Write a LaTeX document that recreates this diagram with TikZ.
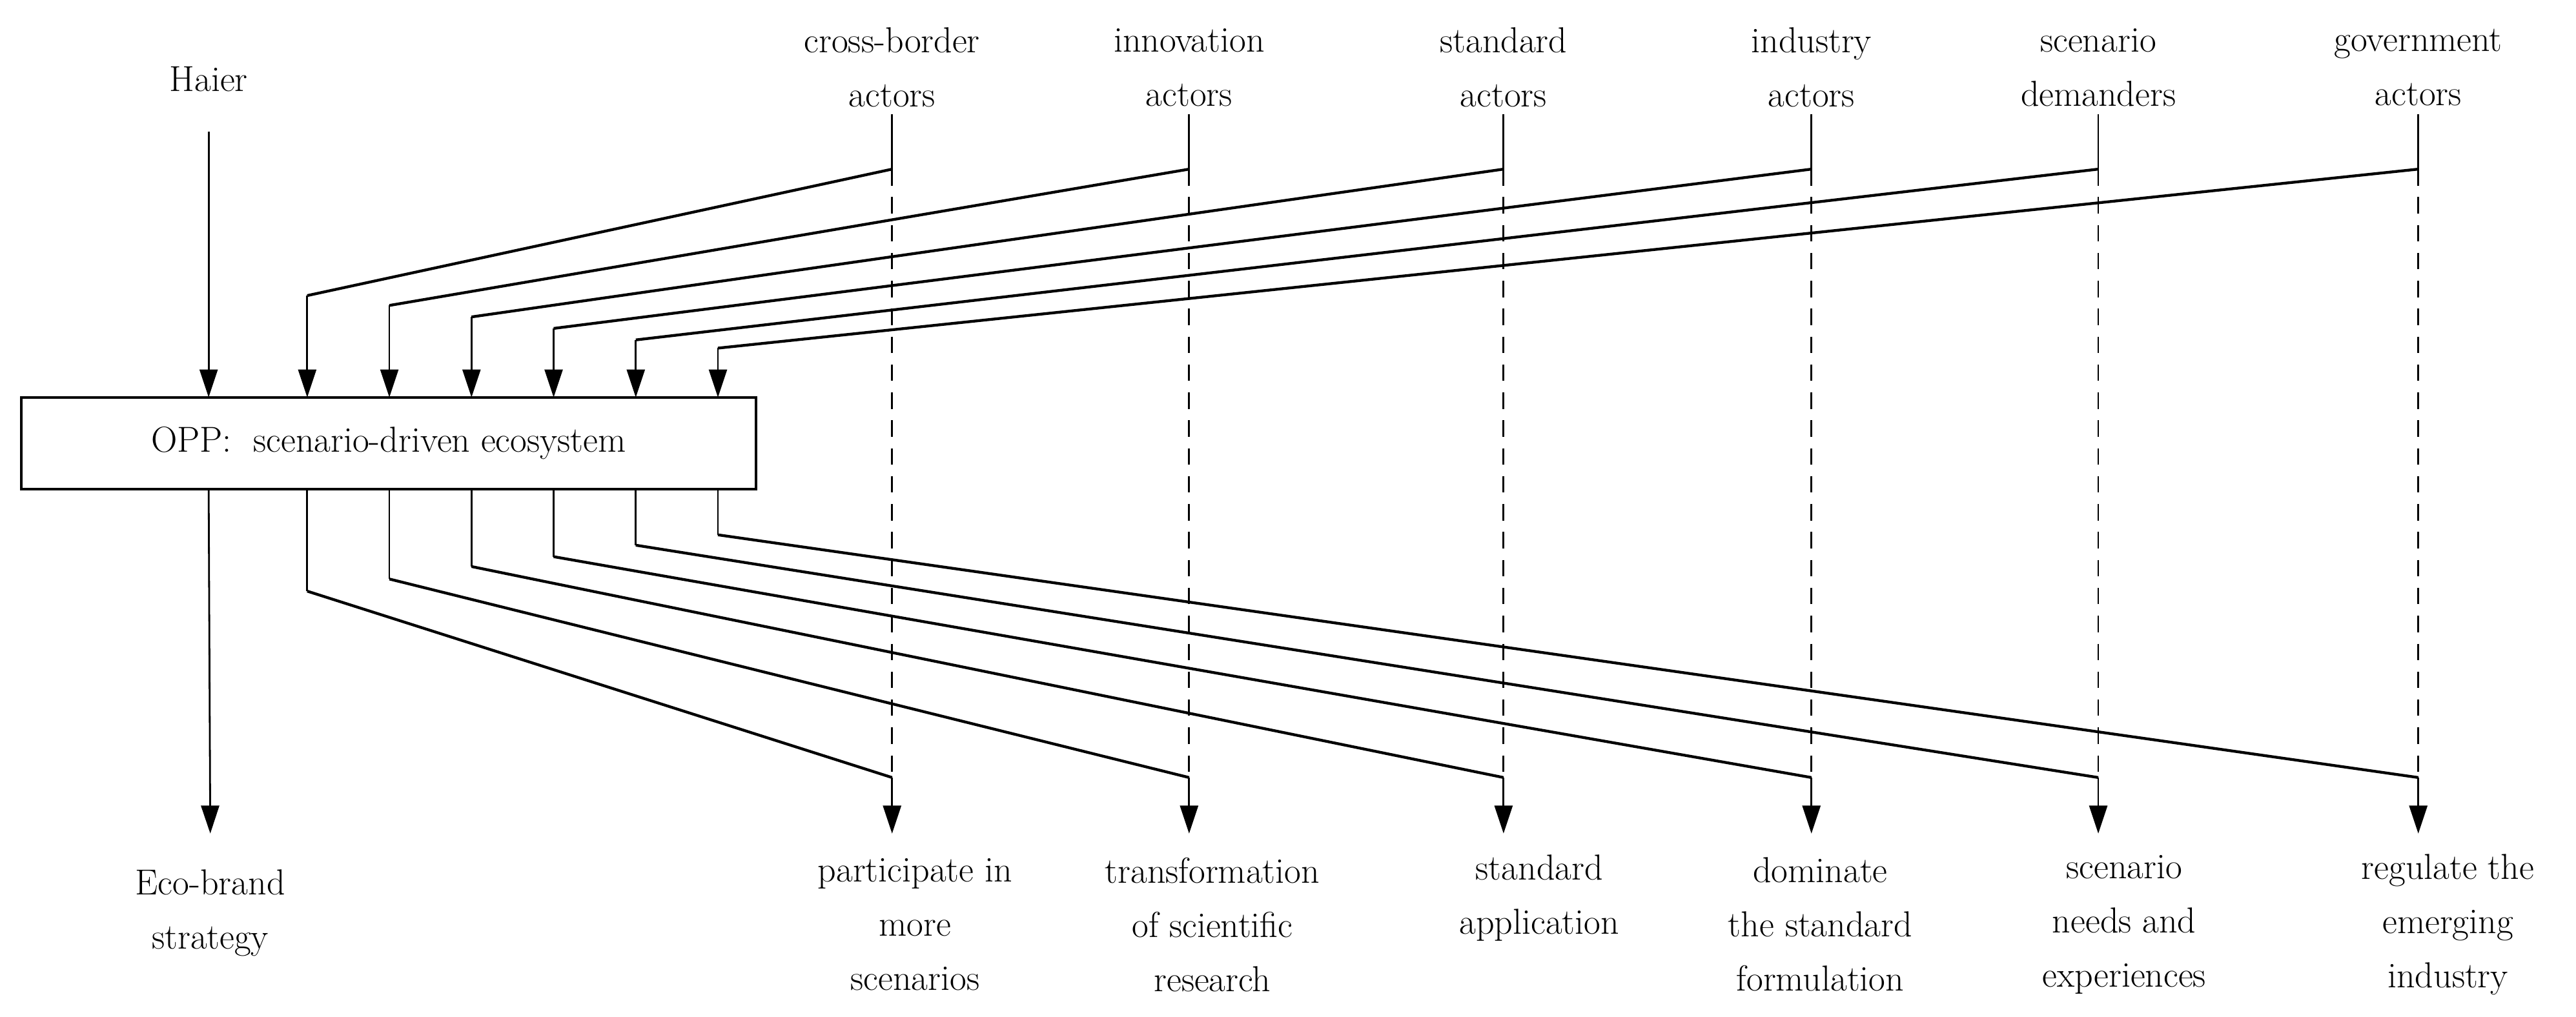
\documentclass[tikz,border=0pt]{standalone}
\usepackage{mathpazo}
\usetikzlibrary{arrows.meta}
\begin{document}
\begin{tikzpicture}[x=1pt,y=-1pt,
  lbl/.style={align=center,font=\fontsize{22}{33}\selectfont,inner sep=0pt},
  tip/.style={-{Triangle[length=17pt,width=11pt]}},
  thn/.style={line width=1.1pt},
  diag/.style={line width=1.7pt},
  dsh/.style={line width=1.1pt,dash pattern=on 10pt off 7pt}]
\useasboundingbox (0,0) rectangle (1568,619);
\node[draw,line width=1.6pt,minimum width=447pt,minimum height=56pt,inner sep=0pt,font=\fontsize{22}{26}\bfseries\selectfont] (box) at (236.5,270) {OPP:\ \ scenario-driven ecosystem};
\node[lbl] (haier) at (127,48) {Haier};
\coordinate (hs) at (127,80);
\draw[thn,tip] (hs) -- (127,242);
\node[lbl] (eco) at (128,556) {Eco-brand\\strategy};
\draw[thn,tip] (127,298) -- (eco.north |- 0,507.6);
\foreach \i/\col/\bx/\ey/\oy/\txt in {
 1/543/187/180/360/{cross-border\\actors},
 2/723.8/237/186/352.6/{innovation\\actors},
 3/915.2/287/193/345/{standard\\actors},
 4/1102.6/337/200/339/{industry\\actors},
 5/1277.2/387/207/332/{scenario\\demanders},
 6/1472/437/212/325.7/{government\\actors}}{
  \node[lbl] (a\i) at (\col,41) {\txt};
  \coordinate (t\i) at (\col,69.4);
  \coordinate (k\i) at (\col,103);
  \coordinate (e\i) at (\bx,\ey);
  \coordinate (ei\i) at (\bx,242);
  \coordinate (f\i) at (\bx,298);
  \coordinate (g\i) at (\bx,\oy);
  \coordinate (h\i) at (\col,473.5);
  \coordinate (p\i) at (\col,507.6);
  \draw[thn] (t\i) -- (k\i);
  \draw[diag] (k\i) -- (e\i);
  \draw[thn,tip] (e\i) -- (ei\i);
  \draw[dsh] (k\i) -- (h\i);
  \draw[thn] (f\i) -- (g\i);
  \draw[diag] (g\i) -- (h\i);
  \draw[thn,tip] (h\i) -- (p\i);
}
\node[lbl] (o1) at (557,563) {participate in\\more\\scenarios};
\node[lbl] (o2) at (738,563) {transformation\\of scientific\\research};
\node[lbl] (o3) at (937,547) {standard\\application};
\node[lbl] (o4) at (1108,563) {dominate\\the standard\\formulation};
\node[lbl] (o5) at (1293,563) {scenario\\needs and\\experiences};
\node[lbl] (o6) at (1490,563) {regulate the\\emerging\\industry};
\end{tikzpicture}
\end{document}
